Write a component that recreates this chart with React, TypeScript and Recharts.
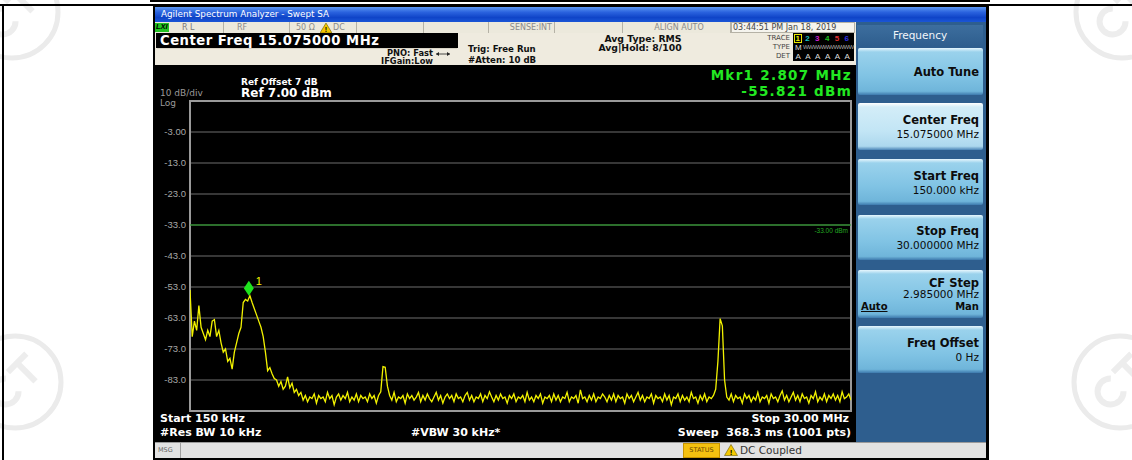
import React from 'react';
import { LineChart, Line, XAxis, YAxis, CartesianGrid, ReferenceLine, ReferenceDot, ReferenceArea } from 'recharts';

const START_MHZ = 0.15;
const STOP_MHZ = 30;

// Trace levels in dBm, read from the sweep (left to right)
const levels = [
  -54, -69, -64, -67, -59, -66, -68, -70, -67, -69,
  -64, -63.5, -69, -67, -71, -74, -73, -77, -76, -79.5,
  -74, -71, -68, -66, -58, -57, -57.5, -55.8, -58, -60,
  -62, -64, -66, -69, -74, -80, -79, -81, -82.5, -83,
  -85, -83.5, -86, -85, -82, -85.5, -84, -87, -86, -88,
  -87, -89.5, -88, -90, -88.5, -89, -87.5, -90.5, -88, -89,
  -88.5, -90, -87, -89, -88, -91, -88.5, -87.5, -89.5, -88,
  -89, -87, -90, -88.5, -89.5, -87.5, -90, -88, -89, -88.5,
  -90, -87.5, -89, -88, -90.5, -88, -86.8, -78.7, -78.9, -85,
  -88, -89.5, -87, -90, -88.5, -89, -88, -90.5, -87.5, -89,
  -88, -89.5, -88.5, -87, -90, -88, -89.5, -87.5, -89, -90,
  -88.5, -87, -89.5, -88, -90.5, -88.5, -87.5, -89, -88, -90,
  -87.5, -89, -88.5, -90, -88, -87, -89.5, -88, -90, -88.5,
  -89, -87.5, -90, -88, -89, -86.8, -88.5, -90, -88, -89.5,
  -87.5, -89, -88.5, -90.5, -88, -89, -87.5, -90, -88.5, -89,
  -88, -90, -87, -89.5, -88.5, -90, -88, -89, -87.5, -90.5,
  -88.5, -89, -88, -90, -87.5, -89.5, -88, -90, -88.5, -89,
  -87, -90, -88.5, -89, -88, -90.5, -86.2, -89, -88.5, -90,
  -88, -89.5, -87.5, -90, -88.5, -89, -87.5, -88.5, -90, -88,
  -89.5, -87.5, -90, -88, -89, -88.5, -90.5, -87.5, -89, -88,
  -90, -88.5, -87, -89.5, -88, -90, -88.5, -89, -87.5, -90.5,
  -88, -89, -88.5, -90, -87.5, -89.5, -88, -91, -88.5, -89,
  -87.5, -90, -88, -89.5, -88.5, -90, -87, -89, -88.5, -90.5,
  -88, -89.5, -87.5, -90, -88.5, -89, -88, -86, -77, -63.2,
  -65.5, -83, -88.5, -89.5, -87.5, -90, -88, -89, -88.5, -90.5,
  -87.5, -89, -88, -90, -88.5, -89.5, -87, -90, -88.5, -89,
  -88, -90.5, -87.5, -89, -88.5, -90, -88, -86.5, -89.5, -88,
  -90, -88.5, -87, -89.5, -88, -90, -87.5, -89, -88.5, -90.5,
  -88, -89, -86.8, -90, -88.5, -89.5, -87.5, -90, -88, -89,
  -87.5, -89.5, -88, -90, -86.8, -89, -88.5, -87.5, -89.5,
];

const xGridTicks = [0.15, 3.135, 6.12, 9.105, 12.09, 15.075, 18.06, 21.045, 24.03, 27.015, 30];
const yTicks = [7, -3, -13, -23, -33, -43, -53, -63, -73, -83, -93];
const displayLineDbm = -33;
const marker = { f: 2.807, level: -55.821 };

const data = levels.map((level, i) => ({
  f: START_MHZ + (i * (STOP_MHZ - START_MHZ)) / (levels.length - 1),
  level,
}));

const FONT = '"Liberation Sans", Arial, sans-serif';
const DV = '"DejaVu Sans", "Liberation Sans", sans-serif';

function Txt(props: any) {
  const { x, y, s = 10, c = '#fff', b = false, right = false, center = false, f = DV, children, style } = props;
  const lh = s * 0.9;
  const st: any = {
    position: 'absolute',
    top: y - lh / 2,
    fontSize: s,
    lineHeight: `${lh}px`,
    height: lh,
    color: c,
    fontWeight: b ? 700 : 400,
    whiteSpace: 'nowrap',
    fontFamily: f,
    ...style,
  };
  if (right) {
    st.right = 1132 - x;
    st.textAlign = 'right';
  } else if (center) {
    st.left = x - 200;
    st.width = 400;
    st.textAlign = 'center';
  } else {
    st.left = x;
  }
  return <div style={st}>{children}</div>;
}

function Box(props: any) {
  const { x, y, w, h, bg, style, children } = props;
  return (
    <div style={{ position: 'absolute', left: x, top: y, width: w, height: h, background: bg, ...style }}>
      {children}
    </div>
  );
}

const keyGrad = 'linear-gradient(#e6f6fd 0px, #9ad2ec 4px, #80c3e4 60%, #6fb5da 92%, #3d79ad 100%)';
const keyGradSel = 'linear-gradient(#ffffff 0px, #d3edf8 4px, #c2e5f5 60%, #acd8ee 92%, #4a84b6 100%)';

function SoftKey(props: any) {
  const { y, h, sel } = props;
  return <Box x={858} y={y} w={125} h={h} bg={sel ? keyGradSel : keyGrad} style={{ borderRadius: 2 }} />;
}

const MarkerShape = (props: any) => {
  const { cx, cy } = props;
  if (cx == null || cy == null) return null;
  return (
    <g>
      <polygon
        points={`${cx},${cy} ${cx - 5},${cy - 7.5} ${cx},${cy - 15} ${cx + 5},${cy - 7.5}`}
        fill="#1ee41e"
      />
      <text x={cx + 7} y={cy - 11} fill="#f5f500" fontSize={11} fontFamily={FONT}>
        1
      </text>
    </g>
  );
};

const yTickFmt = (v: number) => {
  if (v === 7 || v === -93) return '';
  if (v === -3) return '-3.00';
  return v.toFixed(1);
};

function Watermarks() {
  const marks = [
    { cx: 12, cy: 12 },
    { cx: 15, cy: 382 },
    { cx: 1122, cy: 12 },
    { cx: 1120, cy: 382 },
  ];
  return (
    <svg width={1132} height={460} style={{ position: 'absolute', left: 0, top: 0 }}>
      {marks.map((m, i) => (
        <g key={i} fill="none" stroke="#ebebeb" strokeWidth={5}>
          <circle cx={m.cx} cy={m.cy} r={46} />
          <g transform={`rotate(-45 ${m.cx} ${m.cy})`} strokeWidth={6} stroke="#ededed">
            <path d={`M ${m.cx - 4} ${m.cy - 9} A 13 13 0 1 0 ${m.cx - 4} ${m.cy + 9}`} />
            <path d={`M ${m.cx + 2} ${m.cy - 12} L ${m.cx + 28} ${m.cy - 12} M ${m.cx + 15} ${m.cy - 12} L ${m.cx + 15} ${m.cy + 14}`} />
          </g>
        </g>
      ))}
    </svg>
  );
}

export default function App() {
  return (
    <div style={{ position: 'absolute', left: 0, top: 0, width: 1132, height: 460, background: '#fff', overflow: 'hidden', fontFamily: FONT }}>
      <Watermarks />
      {/* table frame */}
      <Box x={150} y={0} w={840} h={1.5} bg="#000" />
      <Box x={0} y={4} w={1132} h={2} bg="#000" />
      <Box x={2} y={4} w={2} h={456} bg="#000" />
      <Box x={987} y={4} w={2} h={456} bg="#000" />

      {/* instrument screen */}
      <Box x={153} y={6} w={834} h={454} bg="#000" />
      {/* title bar */}
      <Box x={155} y={7} w={831} h={15} bg="linear-gradient(#5c97f2 0%, #2a62de 35%, #0f44c8 70%, #1b56d6 100%)" />
      <Txt x={161} y={14.5} s={8.8} c="#fff">Agilent Spectrum Analyzer - Swept SA</Txt>

      {/* status row */}
      <Box x={155} y={22} w={701} h={11} bg="#ece9dc" />
      <Box x={155} y={23} w={14} h={9} bg="#22c322" />
      <Txt x={156} y={27.5} s={7.5} c="#000" b f={FONT} style={{ fontStyle: 'italic' }}>LXI</Txt>
      <Txt x={182} y={27.5} s={8} c="#7a7a7a">R L</Txt>
      <Txt x={237} y={27.5} s={8} c="#8a8a8a">RF</Txt>
      <Txt x={296} y={27.5} s={8} c="#8a8a8a">50 Ω</Txt>
      <svg width={12} height={10} style={{ position: 'absolute', left: 320, top: 23 }}>
        <polygon points="6,0 12,10 0,10" fill="#f3c800" stroke="#6a5a00" strokeWidth={0.6} />
        <text x={6} y={9} fontSize={7} fontWeight={700} textAnchor="middle" fill="#000">!</text>
      </svg>
      <Txt x={333} y={27.5} s={8} c="#8a8a8a">DC</Txt>
      {[223, 289, 356, 423, 488, 554, 622, 730].map((x) => (
        <Box key={x} x={x} y={22} w={1} h={11} bg="#b5b2a6" />
      ))}
      <Txt x={552} y={27.5} s={8} c="#8a8a8a" right>SENSE:INT</Txt>
      <Txt x={679} y={27.5} s={8} c="#8a8a8a" center>ALIGN AUTO</Txt>
      <Box x={731} y={22} w={124} h={11} bg="#f5f4ee" style={{ border: '1px solid #b5b2a6', boxSizing: 'border-box' }} />
      <Txt x={733} y={27.5} s={8} c="#444">03:44:51 PM Jan 18, 2019</Txt>

      {/* settings area */}
      <Box x={155} y={33} w={701} h={32} bg="#efebdf" />
      <Box x={157} y={48} w={300} h={1} bg="#d8d4c6" />
      <Box x={156} y={33} w={302} h={15} bg="#000" />
      <Txt x={160} y={41} s={13.2} c="#fff" b style={{ letterSpacing: 0.5 }}>Center Freq 15.075000 MHz</Txt>
      <Txt x={433} y={53.5} s={8.3} c="#111" b right>PNO: Fast</Txt>
      <svg width={14} height={6} style={{ position: 'absolute', left: 436, top: 51 }}>
        <line x1={0} y1={3} x2={14} y2={3} stroke="#222" strokeWidth={0.8} />
        <polygon points="0,3 3,1 3,5" fill="#222" />
        <polygon points="14,3 11,1 11,5" fill="#222" />
      </svg>
      <Txt x={433} y={62} s={8.3} c="#111" b right>IFGain:Low</Txt>
      <Txt x={468} y={49.5} s={8.6} c="#111" b>Trig: Free Run</Txt>
      <Txt x={468} y={61} s={8.6} c="#111" b>#Atten: 10 dB</Txt>
      <Txt x={643} y={39} s={9.3} c="#111" b center>Avg Type: RMS</Txt>
      <Txt x={640} y={48.5} s={9.3} c="#111" b center>Avg|Hold: 8/100</Txt>

      {/* trace indicator box */}
      <Txt x={790} y={38} s={7} c="#444" right>TRACE</Txt>
      <Txt x={790} y={47} s={7} c="#444" right>TYPE</Txt>
      <Txt x={790} y={56} s={7} c="#444" right>DET</Txt>
      <Box x={793} y={33} w={61} h={28} bg="#000" />
      <Box x={794} y={34} w={8} h={9} bg="#000" style={{ border: '1px solid #e8e800', boxSizing: 'border-box' }} />
      {[
        ['1', '#f0f000'],
        ['2', '#18c8c8'],
        ['3', '#d020d0'],
        ['4', '#20c020'],
        ['5', '#e03030'],
        ['6', '#3030e0'],
      ].map(([t, col], i) => (
        <Txt key={t} x={795.5 + i * 9.8} y={38.5} s={8} c={col} b f={FONT}>{t}</Txt>
      ))}
      <Txt x={795} y={47.5} s={8} c="#ddd" f={FONT}>M</Txt>
      <Txt x={803} y={47.5} s={6} c="#aaa" f={FONT} style={{ letterSpacing: -0.6 }}>WWWWWWWWWW</Txt>
      {[0, 1, 2, 3, 4, 5].map((i) => (
        <Txt key={i} x={795.5 + i * 9.8} y={56.5} s={8} c="#ddd" f={FONT}>A</Txt>
      ))}

      {/* display header texts */}
      <Txt x={241} y={82} s={9} c="#fff" b>Ref Offset 7 dB</Txt>
      <Txt x={241} y={93} s={12} c="#fff" b>Ref 7.00 dBm</Txt>
      <Txt x={160} y={93} s={9} c="#9a9a9a">10 dB/div</Txt>
      <Txt x={160} y={103.5} s={9} c="#9a9a9a">Log</Txt>
      <Txt x={852} y={75.5} s={13.5} c="#22e822" b right style={{ letterSpacing: 1.3 }}>Mkr1 2.807 MHz</Txt>
      <Txt x={852} y={91.5} s={13.5} c="#22e822" b right style={{ letterSpacing: 1.3 }}>-55.821 dBm</Txt>

      {/* chart */}
      <div style={{ position: 'absolute', left: 154, top: 65, width: 702, height: 372 }}>
        <LineChart width={702} height={372} data={data} margin={{ top: 36, right: 5, bottom: 26, left: 0 }}>
          <CartesianGrid stroke="#6e6e6e" strokeWidth={1} horizontalValues={yTicks} verticalValues={xGridTicks} />
          <XAxis
            type="number"
            dataKey="f"
            domain={[START_MHZ, STOP_MHZ]}
            ticks={xGridTicks}
            tick={false}
            tickLine={false}
            axisLine={false}
            height={0}
            allowDataOverflow
          />
          <YAxis
            type="number"
            domain={[-93, 7]}
            ticks={yTicks}
            tickFormatter={yTickFmt}
            tick={{ fill: '#a8a8a8', fontSize: 9.5, fontFamily: FONT }}
            tickLine={false}
            axisLine={false}
            tickSize={0}
            tickMargin={4}
            width={36}
            interval={0}
            allowDataOverflow
          />
          <ReferenceArea x1={START_MHZ} x2={STOP_MHZ} y1={-93} y2={7} fill="none" stroke="#9a9a9a" strokeWidth={2} />
          <ReferenceLine
            y={displayLineDbm}
            stroke="#22a822"
            strokeWidth={1}
            label={{ value: '-33.00 dBm', position: 'insideTopRight', fill: '#22a822', fontSize: 6.5, offset: 3 }}
          />
          <Line
            type="linear"
            dataKey="level"
            stroke="#f2f200"
            strokeWidth={1.3}
            dot={false}
            isAnimationActive={false}
          />
          <ReferenceDot x={marker.f} y={marker.level} shape={MarkerShape} />
        </LineChart>
      </div>

      {/* bottom texts */}
      <Txt x={160} y={419} s={11} c="#fff" b>Start 150 kHz</Txt>
      <Txt x={160} y={433} s={11} c="#fff" b>#Res BW 10 kHz</Txt>
      <Txt x={411} y={433} s={11} c="#fff" b>#VBW 30 kHz*</Txt>
      <Txt x={849} y={419} s={11} c="#fff" b right>Stop 30.00 MHz</Txt>
      <Txt x={851} y={433} s={11} c="#fff" b right>Sweep&nbsp;&nbsp;368.3 ms (1001 pts)</Txt>

      {/* message bar */}
      <Box x={155} y={442} w={831} h={16} bg="#e2e2e2" style={{ borderTop: '1px solid #9a9a9a', boxSizing: 'border-box' }} />
      <Box x={180} y={443} w={1} h={15} bg="#a0a0a0" />
      <Txt x={158} y={450.5} s={6.5} c="#666">MSG</Txt>
      <Box x={683} y={443} w={37} h={15} bg="#f4c010" style={{ border: '1px solid #c89400', boxSizing: 'border-box' }} />
      <Txt x={701.5} y={450.5} s={6.5} c="#6a4a00" center>STATUS</Txt>
      <svg width={14} height={12} style={{ position: 'absolute', left: 724, top: 444 }}>
        <polygon points="7,0.5 13.5,11.5 0.5,11.5" fill="#f3c800" stroke="#6a5a00" strokeWidth={0.6} />
        <text x={7} y={10.5} fontSize={8} fontWeight={700} textAnchor="middle" fill="#000">!</text>
      </svg>
      <Txt x={740} y={450.5} s={10.5} c="#333">DC Coupled</Txt>

      {/* right soft-key panel */}
      <Box x={856} y={22} w={130} h={420} bg="#2e5e8e" />
      <Box x={857} y={25} w={126} h={21} bg="linear-gradient(#3d6e9e, #2e5e8e)" />
      <Txt x={920} y={35.5} s={10.5} c="#f2f6fa" center>Frequency</Txt>

      <SoftKey y={48} h={47} />
      <Txt x={979} y={72} s={11.5} c="#0c0c0c" b right>Auto Tune</Txt>

      <SoftKey y={103} h={47} sel />
      <Txt x={979} y={120} s={11.5} c="#0c0c0c" b right>Center Freq</Txt>
      <Txt x={979} y={135} s={10.5} c="#0c0c0c" right>15.075000 MHz</Txt>

      <SoftKey y={159} h={46} />
      <Txt x={979} y={176} s={11.5} c="#0c0c0c" b right>Start Freq</Txt>
      <Txt x={979} y={191} s={10.5} c="#0c0c0c" right>150.000 kHz</Txt>

      <SoftKey y={215} h={45} />
      <Txt x={979} y={231} s={11.5} c="#0c0c0c" b right>Stop Freq</Txt>
      <Txt x={979} y={246} s={10.5} c="#0c0c0c" right>30.000000 MHz</Txt>

      <SoftKey y={270} h={48} />
      <Txt x={979} y={283.5} s={11.5} c="#0c0c0c" b right>CF Step</Txt>
      <Txt x={979} y={295} s={10.5} c="#0c0c0c" right>2.985000 MHz</Txt>
      <Txt x={861} y={306} s={10} c="#0c0c0c" b style={{ textDecoration: 'underline' }}>Auto</Txt>
      <Txt x={979} y={306} s={10} c="#0c0c0c" b right>Man</Txt>

      <SoftKey y={326} h={47} />
      <Txt x={979} y={343} s={11.5} c="#0c0c0c" b right>Freq Offset</Txt>
      <Txt x={979} y={357.5} s={10.5} c="#0c0c0c" right>0 Hz</Txt>
    </div>
  );
}
